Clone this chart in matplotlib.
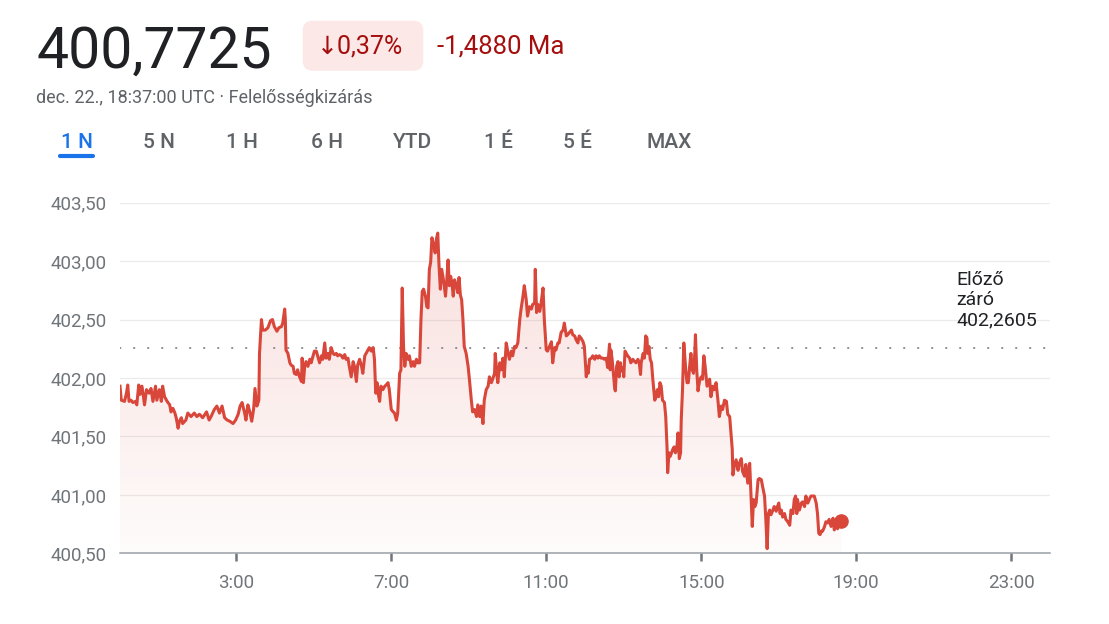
import numpy as np
import matplotlib.pyplot as plt
from matplotlib.colors import to_rgb
from matplotlib.patches import Polygon, FancyBboxPatch

# Intraday quotes: minutes after 0:00 UTC and price
minutes = [
    0, 2, 7, 10, 12, 14, 17, 20, 24, 26,
    29, 31, 34, 38, 41, 45, 48, 51, 55, 57,
    61, 64, 66, 69, 73, 77, 79, 82, 85, 87,
    90, 92, 95, 97, 102, 105, 110, 115, 119, 123,
    128, 134, 138, 141, 146, 150, 154, 158, 162, 166,
    170, 175, 179, 183, 186, 189, 193, 195, 198, 201,
    204, 207, 209, 212, 215, 216,
    219, 221, 225, 229, 233, 236, 239, 243, 246, 250,
    252, 255, 256, 257, 260, 263, 265, 268, 270, 273,
    275, 278, 281, 282, 284, 286, 288, 291, 294, 296,
    299, 301, 304, 306, 309, 312, 314, 317, 319, 322,
    324, 327, 330, 332, 335, 337, 340, 343, 345, 348,
    350, 353, 355, 358, 361, 363, 366, 368, 371, 374,
    376, 379, 381, 384, 386, 389, 392, 394, 396, 398,
    400, 402, 404, 407, 410, 412, 415, 417, 420, 423,
    425, 428, 430, 433, 435, 437, 439, 441, 443, 446,
    448, 451, 454, 456, 459, 461, 464, 466, 468, 470,
    473, 475, 477, 479, 481, 483, 486, 488, 490, 492,
    494, 496, 498, 500, 502, 504, 506, 508, 510, 512,
    514, 516, 518, 521, 523, 525, 527, 529, 531, 533,
    536, 539, 541, 544, 546, 549, 552, 554, 557, 559,
    562, 564, 567, 570, 572, 575, 577, 580, 581, 584,
    585, 588, 590, 593, 595, 598, 601, 603, 606, 608,
    611, 613, 616, 619, 621, 624, 626, 629, 631, 634,
    637, 639, 642, 643, 645, 647, 650, 652, 655, 657,
    660, 662, 665, 668, 670, 673, 675, 678,
    680, 683, 686, 688, 691, 693, 696, 699, 701, 704,
    706, 709, 711, 714, 717, 719, 721, 722, 723, 725,
    727, 730, 732, 735, 737, 740, 742, 745, 748, 750,
    753, 755, 758, 759, 760, 762, 764, 766, 767, 769,
    771, 773, 775, 776, 779, 780, 782, 784, 786, 789,
    791, 794, 797, 799, 802, 804, 806, 807, 810, 812,
    814, 816, 817, 819, 821, 823, 825, 827, 828, 830,
    832, 834, 836, 838, 840, 843, 845, 847, 848, 850,
    852, 854, 856, 858, 860, 862, 864, 866, 868, 869,
    871, 873, 876, 878, 880, 882, 884, 886, 888, 890,
    891, 893, 895, 896, 898, 900, 902, 904, 906, 909,
    911,
    913, 915, 918, 920, 923, 926, 928, 931, 933, 936,
    939, 941, 944, 946, 948, 949, 951, 954, 957, 959,
    962, 964, 967, 969, 972, 975, 977, 979, 981, 983,
    985, 988, 990, 993, 995, 998, 1000, 1002, 1004, 1006,
    1008, 1011, 1013, 1016, 1018, 1020, 1022, 1024, 1026, 1029,
    1031, 1034, 1037, 1039, 1042, 1044, 1046, 1048, 1049, 1052,
    1055, 1057, 1060, 1062, 1065, 1068, 1070, 1073, 1075, 1078,
    1080, 1082, 1084, 1086, 1088, 1091, 1093, 1096, 1098, 1101,
    1104, 1106, 1109, 1111, 1114, 1117,
]
prices = [
    401.93, 401.81, 401.80, 401.87, 401.94, 401.80, 401.81, 401.79, 401.80, 401.77,
    401.94, 401.86, 401.93, 401.77, 401.90, 401.87, 401.91, 401.80, 401.93, 401.81,
    401.90, 401.80, 401.93, 401.84, 401.80, 401.77, 401.71, 401.74, 401.70, 401.66,
    401.57, 401.63, 401.66, 401.61, 401.64, 401.70, 401.67, 401.70, 401.67, 401.69,
    401.66, 401.71, 401.64, 401.67, 401.73, 401.76, 401.70, 401.76, 401.66, 401.64,
    401.63, 401.61, 401.64, 401.69, 401.76, 401.79, 401.70, 401.64, 401.77, 401.71,
    401.63, 401.74, 401.91, 401.76, 401.81, 402.21,
    402.50, 402.41, 402.41, 402.43, 402.49, 402.50, 402.44, 402.40, 402.43, 402.44,
    402.47, 402.59, 402.50, 402.24, 402.21, 402.13, 402.11, 402.10, 402.04, 402.03,
    402.07, 402.01, 401.97, 402.17, 401.96, 402.10, 402.14, 402.10, 402.16, 402.13,
    402.19, 402.23, 402.23, 402.19, 402.13, 402.19, 402.16, 402.30, 402.17, 402.21,
    402.16, 402.26, 402.21, 402.20, 402.21, 402.19, 402.20, 402.19, 402.17, 402.20,
    402.16, 402.17, 402.10, 402.01, 402.14, 402.10, 401.97, 402.11, 402.16, 402.10,
    402.04, 402.19, 402.21, 402.24, 402.26, 402.23, 402.26, 402.16, 401.87, 401.96,
    401.86, 401.80, 401.93, 401.90, 401.93, 401.94, 401.96, 401.90, 401.73, 401.71,
    401.70, 401.64, 401.70, 402.04, 402.07, 402.77, 402.27, 402.10, 402.21, 402.16,
    402.19, 402.10, 402.14, 402.10, 402.16, 402.13, 402.13, 402.50, 402.74, 402.76,
    402.70, 402.61, 402.60, 402.93, 402.99, 403.20, 403.13, 403.07, 403.19, 403.24,
    402.96, 402.76, 402.93, 402.87, 402.79, 402.70, 402.84, 403.01, 402.79, 402.87,
    402.81, 402.70, 402.84, 402.79, 402.73, 402.86, 402.71, 402.67, 402.50, 402.27,
    402.21, 402.10, 401.99, 401.81, 401.71, 401.73, 401.67, 401.77, 401.67, 401.76,
    401.61, 401.81, 401.90, 401.93, 402.01, 401.96, 401.99, 402.04, 402.21, 402.01,
    401.96, 402.13, 402.07, 402.17, 402.01, 402.30, 402.21, 402.16, 402.23, 402.19,
    402.27, 402.26, 402.30, 402.50, 402.59, 402.70, 402.79, 402.67, 402.53, 402.61,
    402.59, 402.63, 402.64, 402.93, 402.56, 402.63, 402.57, 402.64, 402.77, 402.50,
    402.24, 402.23, 402.27, 402.31, 402.13, 402.26, 402.24, 402.30,
    402.30, 402.39, 402.41, 402.47, 402.36, 402.37, 402.39, 402.41, 402.37, 402.36,
    402.33, 402.30, 402.36, 402.34, 402.31, 402.27, 402.10, 402.01, 402.10, 402.04,
    402.16, 402.17, 402.19, 402.16, 402.19, 402.17, 402.19, 402.17, 402.17, 402.16,
    402.17, 402.09, 402.29, 402.07, 402.24, 402.16, 402.04, 401.91, 401.89, 402.10,
    402.14, 402.01, 402.13, 402.06, 402.09, 402.01, 402.23, 402.21, 402.19, 402.17,
    402.13, 402.16, 402.14, 402.13, 402.16, 402.13, 402.03, 402.13, 402.21, 402.17,
    402.36, 402.34, 402.21, 402.27, 402.16, 402.13, 401.99, 401.87, 401.81, 401.84,
    401.90, 401.84, 401.96, 401.93, 401.81, 401.79, 401.67, 401.41, 401.19, 401.36,
    401.33, 401.36, 401.39, 401.41, 401.36, 401.39, 401.53, 401.31, 401.36, 401.64,
    401.90, 402.30, 402.07, 401.96, 401.96, 402.10, 402.21, 402.07, 402.04, 402.21,
    402.37, 402.07, 401.89, 401.93, 401.99, 402.01, 401.99, 402.19, 402.10, 401.93,
    401.96,
    401.99, 401.84, 401.93, 401.90, 401.96, 401.80, 401.67, 401.76, 401.73, 401.81,
    401.80, 401.69, 401.67, 401.53, 401.39, 401.17, 401.24, 401.30, 401.21, 401.27,
    401.31, 401.20, 401.16, 401.26, 401.10, 401.27, 400.99, 400.73, 400.96, 400.90,
    400.93, 401.13, 401.14, 401.13, 401.07, 400.99, 400.79, 400.54, 400.84, 400.87,
    400.83, 400.87, 400.90, 400.86, 400.90, 400.93, 400.84, 400.87, 400.81, 400.84,
    400.79, 400.77, 400.74, 400.87, 400.84, 400.96, 400.99, 400.84, 400.96, 400.87,
    400.93, 400.94, 400.90, 400.99, 400.93, 400.97, 400.99, 400.99, 400.99, 400.93,
    400.84, 400.67, 400.66, 400.69, 400.69, 400.73, 400.77, 400.76, 400.79, 400.73,
    400.80, 400.70, 400.79, 400.71, 400.77, 400.7725,
]
assert len(minutes) == len(prices)

prev_close = 402.2605
y_ticks = [400.5, 401.0, 401.5, 402.0, 402.5, 403.0, 403.5]
y_labels = ['400,50', '401,00', '401,50', '402,00', '402,50', '403,00', '403,50']
x_ticks = [3, 7, 11, 15, 19, 23]
x_labels = ['3:00', '7:00', '11:00', '15:00', '19:00', '23:00']
tabs = ['1 N', '5 N', '1 H', '6 H', 'YTD', '1 É', '5 É', 'MAX']

price_text = '400,7725'
change_pct = '↓0,37%'
change_abs = '-1,4880 Ma'
stamp = 'dec. 22., 18:37:00 UTC · Felelősségkizárás'
prev_label = 'Előző\nzáró\n402,2605'

plt.rcParams['font.family'] = ['Roboto', 'DejaVu Sans']

RED = '#d9463a'
GREY = '#5f6368'
W, H = 1109, 624

fig = plt.figure(figsize=(W / 100, H / 100), dpi=100)

# chart area in pixel terms: x 120..1050, y 553.3..202.7
ax = fig.add_axes([120 / W, 1 - 553.3 / H, 930 / W, 350.6 / H])
hours = np.array(minutes) / 60.0
vals = np.array(prices)

ax.plot(hours, vals, color=RED, lw=2.2, solid_joinstyle='round', zorder=4)
ax.plot(hours[-1], vals[-1], 'o', color=RED, ms=9.5, zorder=5)

# gradient fill under the line
grad = np.zeros((256, 1, 4))
grad[..., :3] = to_rgb(RED)
grad[..., 3] = np.linspace(0.02, 0.17, 256)[:, None]
im = ax.imshow(grad, extent=[0, 24, 400.5, vals.max()], origin='lower',
               aspect='auto', zorder=2)
clip = Polygon(np.column_stack([np.r_[hours, hours[-1], hours[0]],
                                np.r_[vals, 400.5, 400.5]]),
               closed=True, facecolor='none', edgecolor='none')
ax.add_patch(clip)
im.set_clip_path(clip)

ax.axhline(prev_close, color='#80868b', lw=1.4, linestyle=(0, (0.2, 7.0)),
           dash_capstyle='round', zorder=3)

ax.set_xlim(0, 24)
ax.set_ylim(400.5, 403.5)
ax.set_yticks(y_ticks, y_labels)
ax.set_xticks(x_ticks, x_labels)
ax.grid(axis='y', color='#ebebeb', lw=0.9, zorder=1)
ax.set_axisbelow(True)
for s in ['top', 'right', 'left']:
    ax.spines[s].set_visible(False)
ax.spines['bottom'].set_color('#9aa0a6')
ax.spines['bottom'].set_linewidth(1.1)
ax.tick_params(axis='y', length=0, pad=9.5, labelsize=13.5, labelcolor='#70757a')
ax.tick_params(axis='x', length=5.5, width=1.8, color='#70757a', pad=9.5,
               labelsize=13.5, labelcolor='#70757a')

# overlay in pixel coordinates for the header
ov = fig.add_axes([0, 0, 1, 1])
ov.set_xlim(0, W)
ov.set_ylim(H, 0)
ov.axis('off')

ov.text(36, 68, price_text, fontsize=41, color='#202124', va='baseline')
ov.add_patch(FancyBboxPatch((302.7, 20.7), 120.6, 50,
                            boxstyle='round,pad=0,rounding_size=10',
                            fc='#fce8e6', ec='none'))
ov.text(317, 53.3, change_pct, fontsize=18, color='#a50e0e', va='baseline')
ov.text(437, 53.3, change_abs, fontsize=18.5, color='#a50e0e', va='baseline')
ov.text(36, 103, stamp, fontsize=13, color=GREY, va='baseline')

tab_x = [76.5, 159, 242, 327, 412.5, 498.5, 577.5, 669]
for i, (t, x) in enumerate(zip(tabs, tab_x)):
    ov.text(x, 148, t, fontsize=15, fontweight='medium', ha='center',
            va='baseline', color='#1a73e8' if i == 0 else GREY)
ov.plot([60, 93], [156, 156], color='#1a73e8', lw=3, solid_capstyle='round')

ov.text(956, 271, prev_label, fontsize=14, color='#202124', va='top',
        linespacing=1.17)

fig.savefig('out.png', dpi=100)
